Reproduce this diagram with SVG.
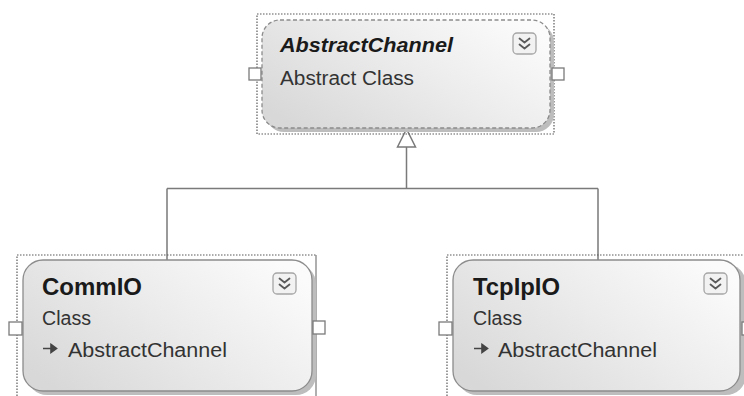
<svg xmlns="http://www.w3.org/2000/svg" width="744" height="396" viewBox="0 0 744 396">
  <defs>
    <linearGradient id="bodyGrad" x1="0" y1="0.8" x2="1" y2="0.2">
      <stop offset="0" stop-color="#d8d8d8"/>
      <stop offset="0.55" stop-color="#ececec"/>
      <stop offset="1" stop-color="#fbfbfb"/>
    </linearGradient>
  </defs>
  <style>
    .sel { fill: none; stroke: #5a5a5a; stroke-width: 1.2; stroke-dasharray: 1.5 1.5; }
    .shadow { fill: #bdbdbd; }
    .body { fill: url(#bodyGrad); stroke: #8c8c8c; stroke-width: 1.3; }
    .abstract { stroke-dasharray: 4 2.5; }
    .port { fill: #ffffff; stroke: #7a7a7a; stroke-width: 1.3; }
    .btn { fill: #f2f2f2; stroke: #a5a5a5; stroke-width: 1.3; }
    .chev { fill: none; stroke: #5a5a5a; stroke-width: 1.8; stroke-linecap: round; stroke-linejoin: round; }
    .title { font-family: "Liberation Sans", Arial, sans-serif; font-weight: bold; font-size: 23px; fill: #1a1a1a; }
    .title-abs { font-style: italic; font-size: 21px; }
    .sub { font-family: "Liberation Sans", Arial, sans-serif; font-size: 20px; fill: #333333; }
    .conn { fill: none; stroke: #7a7a7a; stroke-width: 1.5; }
    .gen { fill: #ffffff; stroke: #7a7a7a; stroke-width: 1.5; stroke-linejoin: miter; }
    .inh { fill: #444444; stroke: #444444; stroke-width: 1.6; }
  </style>

  <g id="connectors">
    <path class="conn" d="M406.5,147 V188.5 M167,188.5 H598 M167,188.5 V260 M598,188.5 V260"/>
    <polygon class="gen" points="406.5,129 397.5,147 415.5,147"/>
  </g>

  <g id="AbstractChannel">
    <rect class="sel" x="257" y="14" width="297" height="120"/>
    <rect class="shadow" x="266" y="24" width="288" height="108" rx="18"/>
    <rect class="body abstract" x="262" y="20" width="288" height="108" rx="18"/>
    <rect class="port" x="249" y="68" width="12" height="12"/>
    <rect class="port" x="552" y="68" width="12" height="12"/>
    <rect class="btn" x="513" y="33" width="23" height="21" rx="4"/>
    <path class="chev" d="M519.5,38.5 L524.5,42.5 L529.5,38.5 M519.5,44.5 L524.5,48.5 L529.5,44.5"/>
    <text class="title title-abs" x="280" y="52" textLength="173" lengthAdjust="spacingAndGlyphs">AbstractChannel</text>
    <text class="sub" x="280" y="85" textLength="134" lengthAdjust="spacingAndGlyphs">Abstract Class</text>
  </g>

  <g id="CommIO">
    <path class="sel" d="M17,396 V255 H316"/>
    <line x1="316" y1="255" x2="316" y2="396" stroke="#7a7a7a" stroke-width="1.2"/>
    <rect class="shadow" x="27" y="264" width="289" height="131" rx="20"/>
    <rect class="body" x="23" y="260" width="289" height="131" rx="20"/>
    <rect class="port" x="9" y="322" width="13" height="13"/>
    <rect class="port" x="313" y="321" width="12" height="13"/>
    <rect class="btn" x="273" y="273" width="23" height="21" rx="4"/>
    <path class="chev" d="M279.5,278.5 L284.5,282.5 L289.5,278.5 M279.5,284.5 L284.5,288.5 L289.5,284.5"/>
    <text class="title" x="42" y="295" textLength="100" lengthAdjust="spacingAndGlyphs">CommIO</text>
    <text class="sub" x="42" y="325" textLength="49" lengthAdjust="spacingAndGlyphs">Class</text>
    <path class="inh" d="M43,348.5 H51 M51,344.5 L56.5,348.5 L51,352.5 Z"/>
    <text class="sub" x="68" y="357" textLength="159" lengthAdjust="spacingAndGlyphs">AbstractChannel</text>
  </g>

  <g id="TcpIpIO">
    <path class="sel" d="M447,396 V255 H744"/>
    <rect class="shadow" x="457" y="264" width="289" height="131" rx="20"/>
    <rect class="body" x="453" y="260" width="287" height="131" rx="20"/>
    <rect class="port" x="439" y="322" width="13" height="13"/>
    <rect class="port" x="742" y="322" width="13" height="13"/>
    <rect class="btn" x="704" y="273" width="23" height="21" rx="4"/>
    <path class="chev" d="M710.5,278.5 L715.5,282.5 L720.5,278.5 M710.5,284.5 L715.5,288.5 L720.5,284.5"/>
    <text class="title" x="473" y="295" textLength="87" lengthAdjust="spacingAndGlyphs">TcpIpIO</text>
    <text class="sub" x="473" y="325" textLength="49" lengthAdjust="spacingAndGlyphs">Class</text>
    <path class="inh" d="M474,348.5 H482 M482,344.5 L487.5,348.5 L482,352.5 Z"/>
    <text class="sub" x="498" y="357" textLength="159" lengthAdjust="spacingAndGlyphs">AbstractChannel</text>
  </g>
</svg>
